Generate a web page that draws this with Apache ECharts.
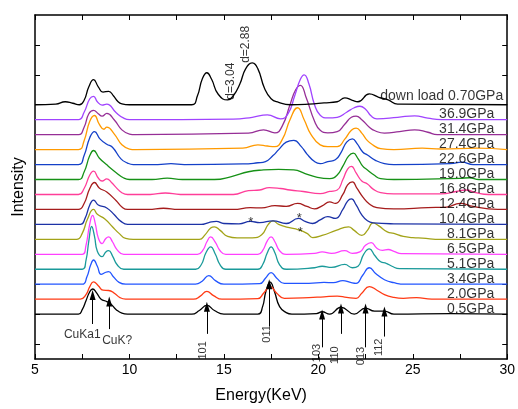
<!DOCTYPE html>
<html>
<head>
<meta charset="utf-8">
<script src="https://cdn.jsdelivr.net/npm/echarts@6/dist/echarts.min.js"></script>
<style>
html, body { margin: 0; padding: 0; background: #fff; }
#chart { width: 518px; height: 409px; }
</style>
</head>
<body>
<div id="chart"></div>
<script>
// pressure labels, bottom curve first
const pressureLabels = ['0.5GPa', '2.0GPa', '3.4GPa', '5.1GPa', '6.5GPa', '8.1GPa', '10.4GPa', '12.4GPa',
  '16.8GPa', '19.0GPa', '22.6GPa', '27.4GPa', '31.4GPa', '36.9GPa', 'down load 0.70GPa']

// [energy (KeV), intensity above the curve's own baseline]
const p05 = [[5,0],[7.3,0],[7.5,0.15],[7.7,0.45],[7.9,0.75],[8.05,0.84],[8.25,0.72],[8.5,0.5],[8.8,0.42],[9.0,0.35],[9.3,0.15],[9.6,0.03],[9.9,0],
  [13.3,0],[13.7,0.12],[14.1,0.29],[14.5,0.12],[15.0,0],[16.8,0],[17.05,0.25],[17.22,0.75],[17.45,1.07],[17.68,0.75],[17.95,0.25],[18.3,0.05],[18.6,0],
  [19.9,0.02],[20.2,0.08],[20.6,0],[21.2,0.23],[21.9,0],[22.5,0.2],[22.97,0.1],[23.5,0.1],[24.0,0],[27,0.02],[30,0]]
const p20 = [[5,0],[7.4,0],[7.7,0.15],[7.9,0.42],[8.1,0.58],[8.35,0.45],[8.6,0.3],[8.9,0.29],[9.2,0.2],[9.5,0.05],[9.8,0],
  [13.4,0],[13.75,0.1],[14.1,0.26],[14.45,0.12],[14.9,0],[16.8,0.02],[17.1,0.2],[17.45,0.42],[17.8,0.2],[18.2,0.03],[19.5,0.05],[20.3,0.08],
  [21.0,0.1],[21.5,0.06],[22.0,0.03],[22.3,0.2],[22.7,0.42],[23.1,0.3],[23.5,0.15],[24.0,0.06],[24.5,0.03],[25.2,0.05],[26,0],[30,0]]
const p34 = [[5,0],[7.5,0],[7.75,0.25],[7.95,0.65],[8.1,0.81],[8.3,0.6],[8.5,0.33],[8.75,0.4],[8.9,0.42],[9.15,0.25],[9.45,0.06],[9.8,0],
  [13.5,0],[13.85,0.1],[14.2,0.29],[14.55,0.12],[15.0,0],[16.9,0.02],[17.2,0.2],[17.5,0.39],[17.8,0.2],[18.2,0.03],[19.5,0.03],[20.3,0.06],
  [20.8,0.05],[21.3,0.12],[21.7,0.06],[22.0,0.03],[22.35,0.3],[22.7,0.55],[23.05,0.35],[23.5,0.15],[24.0,0.05],[24.6,0],[30,0]]
const p51 = [[5,0],[7.5,0],[7.7,0.3],[7.85,0.95],[8.0,1.43],[8.15,1.1],[8.3,0.6],[8.55,0.42],[8.75,0.58],[8.9,0.62],[9.1,0.45],[9.35,0.15],[9.7,0],
  [13.5,0],[13.8,0.15],[14.05,0.55],[14.3,0.75],[14.55,0.5],[14.8,0.15],[15.1,0],[16.8,0],[17.05,0.15],[17.3,0.55],[17.5,0.75],[17.7,0.55],
  [17.95,0.15],[18.3,0],[19.8,0.05],[20.2,0.1],[20.7,0.06],[21.4,0.16],[21.8,0.05],[22.1,0.1],[22.4,0.5],[22.7,0.68],[23.0,0.45],[23.3,0.25],
  [23.6,0.2],[23.9,0.1],[24.3,0.02],[30,0]]
const p65 = [[5,0],[7.5,0],[7.7,0.3],[7.88,0.95],[8.05,1.3],[8.2,1.0],[8.35,0.55],[8.55,0.36],[8.75,0.53],[8.9,0.58],[9.1,0.42],[9.35,0.15],[9.7,0],
  [13.6,0],[13.9,0.15],[14.1,0.42],[14.3,0.58],[14.55,0.4],[14.8,0.12],[15.1,0],[16.8,0],[17.05,0.12],[17.3,0.45],[17.5,0.58],[17.7,0.42],
  [17.95,0.12],[18.3,0],[19.8,0.03],[20.2,0.08],[20.7,0.03],[21.4,0.12],[21.8,0.03],[22.2,0.08],[22.5,0.3],[22.8,0.39],[23.1,0.2],[23.4,0.13],
  [23.7,0.16],[24.0,0.1],[24.4,0.02],[30,0]]
const p81 = [[5,0],[7.2,0],[7.5,0.2],[7.78,0.68],[8.1,1.0],[8.3,0.84],[8.7,0.68],[9.1,0.42],[9.45,0.2],[9.8,0.03],[10.2,0],
  [13.7,0],[14.0,0.15],[14.3,0.38],[14.5,0.42],[14.8,0.3],[15.2,0.1],[15.7,0.05],[16.5,0.05],[17.0,0.15],[17.35,0.5],[17.6,0.62],[17.9,0.5],
  [18.4,0.4],[18.95,0.32],[19.4,0.2],[19.7,0.06],[20.2,0.13],[20.9,0.29],[21.3,0.38],[21.6,0.42],[21.9,0.3],[22.3,0.13],[22.6,0.3],[22.9,0.55],
  [23.2,0.45],[23.65,0.25],[24.0,0.2],[24.5,0.1],[25.0,0.06],[25.5,0.04],[26.5,0],[30,0]]
const p104 = [[5,0],[7.4,0],[7.65,0.2],[7.9,0.65],[8.1,0.81],[8.35,0.65],[8.8,0.55],[9.2,0.32],[9.55,0.1],[9.9,0],
  [13.8,0],[14.2,0.06],[14.6,0.1],[15.0,0.03],[15.8,0.02],[16.4,0.1],[16.9,0.06],[17.6,0.12],[18.3,0.03],[18.95,0.2],[19.3,0.1],[19.7,0.03],
  [20.1,0.15],[20.5,0.26],[20.9,0.2],[21.3,0.5],[21.55,0.78],[21.75,0.85],[22.0,0.65],[22.3,0.32],[22.6,0.12],[22.9,0.05],[24,0.02],[30,0]]
const p124 = [[5,0],[7.3,0],[7.6,0.2],[7.9,0.7],[8.15,0.9],[8.4,0.72],[8.8,0.58],[9.3,0.29],[9.6,0.08],[9.9,0],[11.0,0],[11.8,0.04],[12.6,0],
  [15.5,0],[16.4,0.06],[17.0,0.05],[17.7,0.13],[18.3,0.1],[18.9,0.2],[19.4,0.1],[19.8,0.02],[20.2,0.12],[20.6,0.25],[20.9,0.2],[21.3,0.5],
  [21.55,0.82],[21.8,0.92],[22.05,0.7],[22.35,0.42],[22.7,0.18],[23.1,0.06],[24,0.02],[25.8,0.06],[26.8,0.08],[27.5,0.2],[28.2,0.1],[29,0.02],[30,0]]
const p168 = [[5,0],[7.3,0],[7.6,0.2],[7.9,0.65],[8.1,0.78],[8.35,0.55],[8.55,0.45],[8.8,0.52],[9.05,0.4],[9.3,0.23],[9.6,0.06],[9.9,0],
  [11.1,0],[11.9,0.05],[12.7,0],[15.5,0],[16.3,0.13],[16.9,0.15],[17.4,0.23],[18.0,0.2],[18.5,0.15],[19.2,0.1],[20.1,0.03],[20.6,0.1],[21.0,0.15],
  [21.3,0.5],[21.55,0.85],[21.75,0.94],[22.0,0.72],[22.3,0.45],[22.6,0.35],[22.9,0.18],[23.3,0.06],[24,0.02],[26.5,0.02],[27.3,0.1],[27.8,0.15],
  [28.4,0.05],[29,0],[30,0]]
const p190 = [[5,0],[7.3,0],[7.6,0.25],[7.9,0.8],[8.1,0.97],[8.4,0.72],[8.8,0.49],[9.3,0.23],[9.7,0.05],[10.0,0],[11.2,0],[12.0,0.05],[12.8,0],
  [14.5,0],[15.4,0.1],[16.3,0.26],[17.1,0.32],[17.9,0.34],[18.7,0.32],[19.3,0.2],[19.9,0.08],[20.6,0.03],[21.0,0.15],[21.3,0.45],[21.6,0.78],
  [21.85,0.88],[22.1,0.7],[22.35,0.45],[22.6,0.32],[22.95,0.15],[23.3,0.03],[24,0],[27.5,0.04],[28,0.06],[28.5,0],[30,0]]
const p226 = [[5,0],[7.3,0],[7.6,0.3],[7.9,0.9],[8.15,1.1],[8.45,0.85],[8.8,0.68],[9.1,0.58],[9.55,0.19],[9.9,0.05],[10.2,0],[11.5,0],[12.2,0.03],
  [12.9,0],[16.0,0.02],[16.8,0.06],[17.2,0.1],[17.6,0.3],[17.9,0.5],[18.3,0.75],[18.7,0.81],[19.1,0.6],[19.4,0.35],[19.8,0.1],[20.1,0.03],
  [20.5,0.1],[20.9,0.16],[21.2,0.4],[21.5,0.75],[21.8,0.86],[22.05,0.7],[22.35,0.42],[22.6,0.32],[23.0,0.15],[23.5,0.03],[24,0],[27,0.03],
  [27.6,0.08],[28.2,0],[30,0]]
const p274 = [[5,0],[7.3,0],[7.6,0.3],[7.9,0.95],[8.15,1.14],[8.4,0.85],[8.65,0.68],[8.8,0.75],[9.2,0.52],[9.6,0.16],[10.0,0.02],[10.3,0],
  [16.0,0.05],[16.8,0.16],[17.3,0.12],[17.7,0.1],[18.1,0.35],[18.5,1.0],[18.9,1.4],[19.25,1.0],[19.6,0.52],[20.1,0.16],[20.5,0.1],[21.0,0.1],
  [21.4,0.35],[21.75,0.65],[22.0,0.72],[22.3,0.55],[22.6,0.3],[22.9,0.15],[23.3,0.03],[24,0],[25.5,0.05],[26.5,0.02],[28.4,0.05],[30,0]]
const p314 = [[5,0],[7.3,0],[7.6,0.25],[7.85,0.7],[8.1,0.81],[8.35,0.7],[8.55,0.62],[8.8,0.71],[9.2,0.49],[9.6,0.16],[10.0,0.02],[10.3,0],
  [16.3,0.05],[17.1,0.16],[17.7,0.06],[18.1,0.3],[18.5,1.0],[18.8,1.5],[19.05,1.65],[19.35,1.25],[19.8,0.45],[20.1,0.15],[20.5,0.06],[21.0,0.1],
  [21.4,0.35],[21.75,0.58],[22.0,0.62],[22.3,0.5],[22.7,0.25],[23.0,0.13],[23.5,0.05],[24.3,0.1],[25.1,0.16],[25.8,0.08],[26.3,0],[30,0]]
const p369 = [[5,0],[7.3,0],[7.6,0.25],[7.9,0.7],[8.1,0.78],[8.3,0.6],[8.55,0.49],[8.8,0.52],[9.3,0.23],[9.7,0.05],[10.0,0],
  [15.5,0.02],[16.5,0.08],[17.3,0.16],[18.0,0.03],[18.4,0.2],[18.75,0.8],[19.05,1.35],[19.25,1.5],[19.5,1.2],[19.8,0.5],[20.1,0.15],[20.5,0.06],
  [21.0,0.08],[21.5,0.25],[21.9,0.4],[22.2,0.45],[22.5,0.35],[22.8,0.12],[23.1,0.03],[24.2,0.08],[25.1,0.13],[25.8,0.05],[26.5,0],[30,0]]
const pDown = [[5,0],[6.1,0.02],[6.6,0.1],[7.0,0.05],[7.35,0],[7.6,0.15],[7.85,0.6],[8.1,0.84],[8.35,0.6],[8.6,0.42],[8.9,0.45],[9.15,0.3],
  [9.4,0.1],[9.6,0.03],[10,0],[13.3,0],[13.6,0.3],[13.85,0.85],[14.1,1.07],[14.35,0.85],[14.7,0.35],[15.2,0.16],[15.5,0.3],[15.85,0.7],
  [16.15,1.2],[16.5,1.4],[16.8,1.2],[17.15,0.55],[17.5,0.2],[17.9,0.08],[18.5,0],[19.5,0.02],[20.3,0.06],[21.0,0.1],[21.4,0.23],[21.8,0.15],
  [22.1,0.1],[22.7,0.36],[23.2,0.25],[23.7,0.16],[24.2,0.02],[30,0]]

const curves = [p05, p20, p34, p51, p65, p81, p104, p124, p168, p190, p226, p274, p314, p369, pDown]

// peak markers under the 0.5GPa curve
const peakNames = ['CuKa1', 'CuK?', '101', '011', '103', '110', '013', '112']
const peakEnergies = [8.05, 8.93, 14.1, 17.4, 20.2, 21.2, 22.5, 23.5]

const lineColors = ['#000000', '#ff3a14', '#2255ff', '#1a9a9a', '#ff40ff', '#a3a318', '#1c32a6', '#a51c1c',
  '#ff3d99', '#169116', '#1440c8', '#ff9a00', '#962e96', '#a043ff', '#000000']

const chart = echarts.init(document.getElementById('chart'))
const font = 'Arial, "Liberation Sans", sans-serif'

const curveSeries = curves.map((pts, i) => ({
  type: 'line',
  name: pressureLabels[i],
  data: pts.map(p => [p[0], p[1] + 1 + 0.5 * i]),
  showSymbol: false,
  smooth: 0.5,
  silent: true,
  lineStyle: { color: lineColors[i], width: 1.3 },
  z: 3
}))

// pressure texts at the right end of each curve
const labelSeries = {
  type: 'scatter',
  symbolSize: 0,
  silent: true,
  clip: false,
  data: pressureLabels.map((t, i) => ({
    name: t,
    value: i === 14 ? [29.79, 8.3] : [29.32, 1 + 0.5 * i + 0.18]
  })),
  label: {
    show: true,
    position: 'left',
    distance: 0,
    formatter: p => p.name,
    color: '#000',
    fontSize: 14,
    fontFamily: font
  },
  z: 5
}

const arrowTips = [1.64, 1.42, 1.25, 2.0, 0.99, 1.19, 1.19, 1.09]
const arrowTails = [0.67, 0.5, 0.34, 0.6, -0.11, 0.34, -0.11, 0.25]
const arrowSeries = {
  type: 'lines',
  coordinateSystem: 'cartesian2d',
  silent: true,
  symbol: ['none', 'triangle'],
  symbolSize: [0, [6, 10]],
  lineStyle: { color: '#000', width: 1, opacity: 1 },
  data: peakEnergies.map((e, i) => ({ coords: [[e, arrowTails[i]], [e, arrowTips[i]]] })),
  z: 4
}

// annotation texts: [energy, value, text, rotate]
const notes = [
  [7.5, 0.31, 'CuKa1', 0], [9.35, 0.12, 'CuK?', 0], [13.9, -0.21, '101', 90], [17.27, 0.34, '011', 90],
  [19.95, -0.3, '103', 90], [20.9, -0.37, '110', 90], [22.25, -0.4, '013', 90], [23.2, -0.11, '112', 90],
  [15.38, 8.79, 'd=3.04', 90], [16.16, 10.02, 'd=2.88', 90],
  [16.43, 4.05, '*', 0], [18.99, 4.2, '*', 0], [19.05, 3.72, '*', 0]
]
const noteSeries = {
  type: 'scatter',
  symbolSize: 0,
  silent: true,
  clip: false,
  data: notes.map(n => ({
    name: n[2],
    value: [n[0], n[1]],
    label: { rotate: n[3], fontSize: n[2].startsWith('d=') || n[2].startsWith('Cu') ? 12 : (n[2] === '*' ? 13 : 11) }
  })),
  label: {
    show: true,
    position: 'inside',
    formatter: p => p.name,
    color: '#000',
    fontFamily: font
  },
  z: 5
}

const tickX = { show: true, inside: true, length: 5, lineStyle: { color: '#000', width: 1 } }
const frameLine = { show: true, onZero: false, lineStyle: { color: '#000', width: 1.5 } }
const yTickValues = [0, 1, 2, 3, 4, 5, 6, 7, 8, 9, 10]

chart.setOption({
  animation: false,
  backgroundColor: '#fff',
  grid: { left: 35, right: 6, top: 15, bottom: 40 },
  xAxis: [{
    type: 'value',
    min: 5,
    max: 30,
    interval: 2.5,
    name: 'Energy(KeV)',
    nameLocation: 'middle',
    nameGap: 29,
    nameTextStyle: { fontSize: 16, fontFamily: font, color: '#000', padding: [0, 20, 0, 0] },
    axisLine: frameLine,
    axisTick: tickX,
    splitLine: { show: false },
    axisLabel: {
      color: '#000',
      fontSize: 14,
      fontFamily: font,
      margin: 4,
      formatter: v => (v % 5 === 0 ? String(v) : '')
    }
  }, {
    type: 'value',
    position: 'top',
    min: 5,
    max: 30,
    interval: 2.5,
    axisLine: frameLine,
    axisTick: tickX,
    axisLabel: { show: false },
    splitLine: { show: false }
  }],
  yAxis: [{
    type: 'value',
    min: -0.5,
    max: 11,
    name: 'Intensity',
    nameLocation: 'middle',
    nameGap: 8,
    nameTextStyle: { fontSize: 16, fontFamily: font, color: '#000' },
    axisLine: frameLine,
    axisTick: Object.assign({ customValues: yTickValues }, tickX),
    axisLabel: { show: false },
    splitLine: { show: false }
  }, {
    type: 'value',
    position: 'right',
    min: -0.5,
    max: 11,
    axisLine: frameLine,
    axisTick: Object.assign({ customValues: yTickValues }, tickX),
    axisLabel: { show: false },
    splitLine: { show: false }
  }],
  series: curveSeries.concat([labelSeries, arrowSeries, noteSeries])
})
</script>
</body>
</html>
